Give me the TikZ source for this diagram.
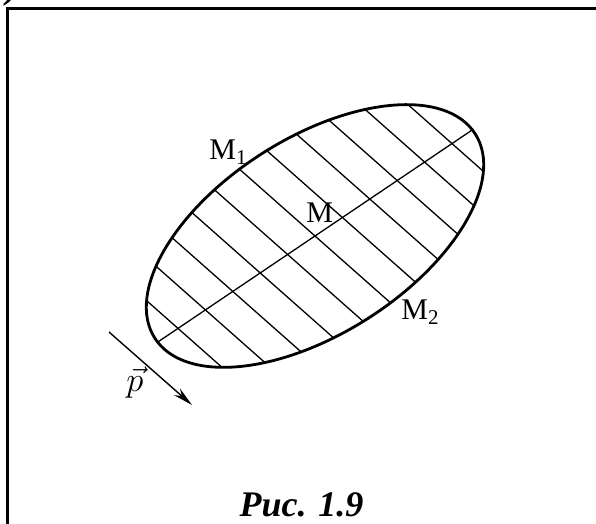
\documentclass[tikz,border=0pt]{standalone}
\usepackage{fontspec}
\setmainfont{Liberation Serif}
\usetikzlibrary{arrows.meta}

\begin{document}
\begin{tikzpicture}[
    x=0.5pt, y=0.5pt,
    font=\fontsize{15}{17}\selectfont,
    frame/.style={line width=1.5pt},
    contour/.style={line width=1.4pt},
    hatch/.style={line width=0.65pt},
    vecarrow/.style={-{Stealth[length=10pt, width=4.5pt]}, line width=0.7pt},
    lbl/.style={anchor=base west, inner sep=0pt},
    caption/.style={anchor=base, inner sep=0pt, font=\fontsize{18}{20}\selectfont\bfseries\itshape}
  ]
    \useasboundingbox (0,0) rectangle (596,524);

    % frame of the figure, cut by the page on the right and below
    \node[caption] (tag) at (12,525) {)};
    \draw[frame] (7,-10) -- (7,515) -- (610,515);

    \coordinate (ctr) at (315,288);
    \coordinate (pstart) at (109,192);
    \coordinate (pend) at (192,119);

    % chords parallel to p and the diameter through their midpoints
    \begin{scope}
      \clip[shift={(ctr)}, rotate=32.5] (0,0) ellipse [x radius=190, y radius=98];
      \foreach \k in {-5,...,5}
        \draw[hatch, shift={(ctr)}, rotate=-41.5] (-250,32*\k) -- (250,32*\k);
      \draw[hatch, shift={(ctr)}, rotate=34] (-250,0) -- (250,0);
    \end{scope}
    \draw[contour, shift={(ctr)}, rotate=32.5] (0,0) ellipse [x radius=190, y radius=98];

    \draw[vecarrow] (pstart) -- (pend);

    \node[lbl] (m1) at (209,364) {M\textsubscript{1}};
    \node[lbl] (m) at (306,301) {M};
    \node[lbl] (m2) at (401,204) {M\textsubscript{2}};
    \node[lbl, font=\fontsize{17}{19}\selectfont] (p) at (126,132) {$\vec{p}$};
    \node[caption] (cap) at (301.5,7) {Рис. 1.9};
\end{tikzpicture}
\end{document}
